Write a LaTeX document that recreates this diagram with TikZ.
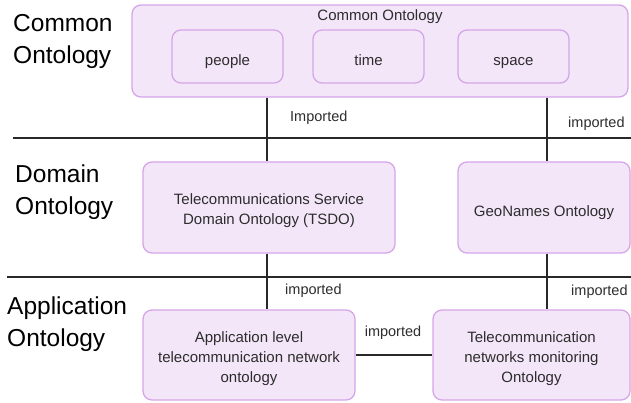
\documentclass[tikz,border=0pt]{standalone}
\usepackage{fontspec}
\setmainfont{Liberation Sans}
\definecolor{boxfill}{RGB}{243,230,248}
\definecolor{boxline}{RGB}{214,165,232}
\definecolor{inktext}{RGB}{45,45,45}
\definecolor{ruleline}{RGB}{40,40,40}
\begin{document}
\begin{tikzpicture}[x=1pt,y=-1pt,
  onto/.style={draw=boxline,fill=boxfill,line width=1.3pt,rounded corners=9pt,
    inner sep=0pt},
  ontotext/.style={align=center,text=inktext,inner sep=0pt,yshift=-3.5pt,
    font=\fontsize{15}{19.8}\selectfont},
  oneline/.style={ontotext,text height=11pt,text depth=3pt,yshift=-1pt},
  layerlabel/.style={anchor=north west,inner sep=0pt,align=left,text=black,
    font=\fontsize{24.5}{32}\selectfont},
  linklabel/.style={inner sep=0pt,text=inktext,font=\fontsize{14.5}{17}\selectfont},
  link/.style={draw=ruleline,line width=1.3pt},
  separator/.style={draw=ruleline,line width=1.5pt}]
\useasboundingbox (0,0) rectangle (631,402);

% layer separators
\coordinate (sepAl) at (13,138);
\coordinate (sepAr) at (631,138);
\coordinate (sepBl) at (7,277);
\coordinate (sepBr) at (631,277);
\draw[separator] (sepAl) -- (sepAr);
\draw[separator] (sepBl) -- (sepBr);

% layer names
\node[layerlabel] (lcommon) at (13,14.5) {Common\\Ontology};
\node[layerlabel] (ldomain) at (15,165) {Domain\\Ontology};
\node[layerlabel] (lapp) at (7,297) {Application\\Ontology};

% common ontology with its three modules
\node[onto,minimum width=496pt,minimum height=92pt] (common) at (380,51) {};
\node[linklabel,font=\fontsize{15}{17}\selectfont] (ctitle) at (380,16.5) {Common Ontology};
\node[onto,minimum width=111pt,minimum height=53pt,
  label={[oneline]center:people}] (people) at (227.5,56.5) {};
\node[onto,minimum width=111pt,minimum height=53pt,
  label={[oneline]center:time}] (time) at (368.5,56.5) {};
\node[onto,minimum width=111pt,minimum height=53pt,
  label={[oneline]center:space}] (space) at (513.5,56.5) {};

% domain ontologies
\node[onto,minimum width=252pt,minimum height=91pt,
  label={[ontotext]center:Telecommunications Service\\Domain Ontology (TSDO)}]
  (tsdo) at (269,207.5) {};
\node[onto,minimum width=172pt,minimum height=91pt,
  label={[oneline]center:GeoNames Ontology}] (geo) at (544,207.5) {};

% application ontologies
\node[onto,minimum width=212pt,minimum height=90pt,
  label={[ontotext]center:Application level\\telecommunication network\\ontology}]
  (app) at (249,355) {};
\node[onto,minimum width=197pt,minimum height=90pt,
  label={[ontotext]center:Telecommunication\\networks monitoring\\Ontology}]
  (mon) at (531.5,355) {};

% import links
\coordinate (xl) at (267,0);
\coordinate (xr) at (547,0);
\draw[link] (common.south -| xl) -- (tsdo.north -| xl);
\draw[link] (common.south -| xr) -- (geo.north -| xr);
\draw[link] (tsdo.south -| xl) -- (app.north -| xl);
\draw[link] (geo.south -| xr) -- (mon.north -| xr);
\draw[link] (app.east) -- (mon.west);

\node[linklabel,anchor=west] (i1) at (290,118) {Imported};
\node[linklabel,anchor=west] (i2) at (568,124) {imported};
\node[linklabel,anchor=west] (i3) at (285,291) {imported};
\node[linklabel,anchor=west] (i4) at (571,292) {imported};
\node[linklabel] (i5) at (393,333) {imported};
\end{tikzpicture}
\end{document}
